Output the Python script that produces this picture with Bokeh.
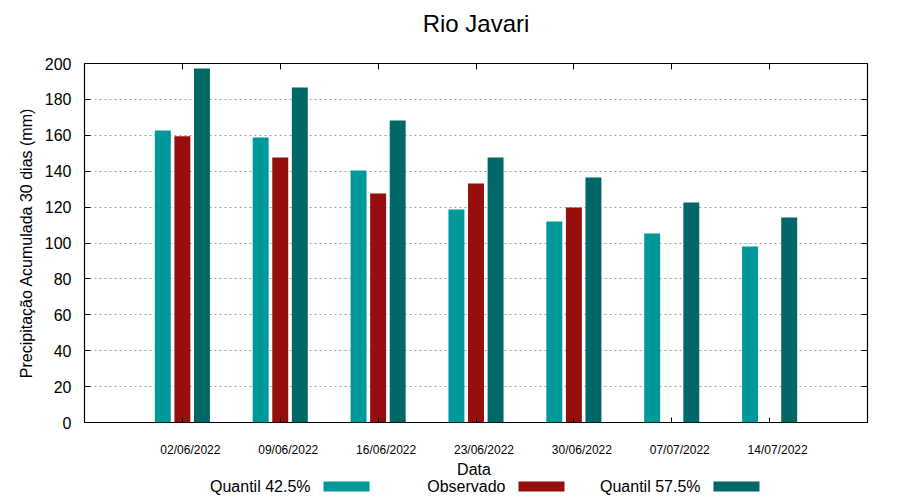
from bokeh.plotting import figure
from bokeh.models import (ColumnDataSource, LinearAxis, FixedTicker, Range1d, Title)
from bokeh.layouts import column
from bokeh.core.properties import value
from bokeh.embed import file_html
from bokeh.resources import INLINE

# ---- data ----
dates = ["02/06/2022", "09/06/2022", "16/06/2022", "23/06/2022",
         "30/06/2022", "07/07/2022", "14/07/2022"]
q425 = [162.7, 158.8, 140.4, 118.7, 112.0, 105.3, 98.0]
observado = [159.5, 147.6, 127.6, 133.1, 119.8, None, None]
q575 = [197.2, 186.6, 168.2, 147.6, 136.5, 122.6, 114.2]
y_ticks = [0, 20, 40, 60, 80, 100, 120, 140, 160, 180, 200]
series_names = ["Quantil 42.5%", "Observado", "Quantil 57.5%"]
series_colors = ["#009999", "#960e0e", "#006868"]
offsets = [-0.2, 0.0, 0.2]
x_title = "Data"
y_title = "Precipitação Acumulada 30 dias (mm)"

idx = list(range(len(dates)))
FONT = "Liberation Sans"
FW, FH = 783, 359
X0, X1 = -1, 7

p = figure(frame_width=FW, frame_height=FH, output_backend="svg",
           toolbar_location=None, x_range=Range1d(X0, X1), y_range=Range1d(0, 200),
           min_border_left=84, min_border_right=24, min_border_top=63,
           min_border_bottom=0)
p.extra_x_ranges = {"labels": Range1d(X0 - 0.082, X1 - 0.082)}

p.title.text = "Rio Javari"
p.title.align = "center"
p.title.offset = 0
p.title.text_font = FONT
p.title.text_font_size = "24px"
p.title.text_font_style = "normal"
p.title.text_color = "black"
p.title.standoff = 15

series = [q425, observado, q575]
for name, vals, col, off in zip(series_names, series, series_colors, offsets):
    xs = [i + off for i, v in zip(idx, vals) if v is not None]
    ys = [v for v in vals if v is not None]
    src = ColumnDataSource(dict(x=xs, top=ys))
    p.vbar(x="x", top="top", bottom=0, width=0.163, source=src,
           fill_color=col, line_color=None)

blank_x = {i: "" for i in idx}
blank_y = {t: "" for t in y_ticks}

# bottom axis: tick marks only
ax = p.xaxis[0]
ax.ticker = FixedTicker(ticks=idx)
ax.major_label_overrides = blank_x
ax.major_label_standoff = 0
ax.major_tick_in = 5
ax.major_tick_out = 0
ax.minor_tick_line_color = None
ax.axis_line_color = None

# bottom axis on a slightly shifted range: date labels as in the reference
lab = LinearAxis(x_range_name="labels", ticker=FixedTicker(ticks=idx),
                 major_label_overrides={i: d for i, d in zip(idx, dates)},
                 major_label_text_font=FONT, major_label_text_font_size="12px",
                 major_label_text_color="black", major_label_standoff=20,
                 major_tick_in=0, major_tick_out=0, minor_tick_line_color=None,
                 axis_line_color=None)
p.add_layout(lab, "below")

ay = p.yaxis[0]
ay.ticker = FixedTicker(ticks=y_ticks)
ay.major_label_text_font = FONT
ay.major_label_text_font_size = "16px"
ay.major_label_text_color = "black"
ay.major_label_standoff = 13
ay.axis_label = y_title
ay.axis_label_text_font = FONT
ay.axis_label_text_font_size = "16px"
ay.axis_label_text_font_style = "normal"
ay.axis_label_text_color = "black"
ay.axis_label_standoff = 7
ay.major_tick_in = 6
ay.major_tick_out = 0
ay.minor_tick_line_color = None
ay.axis_line_color = None

top_ax = LinearAxis(ticker=FixedTicker(ticks=idx), major_label_overrides=blank_x,
                    major_tick_in=6, major_tick_out=0, minor_tick_line_color=None,
                    axis_line_color=None, major_label_standoff=0)
right_ax = LinearAxis(ticker=FixedTicker(ticks=y_ticks), major_label_overrides=blank_y,
                      major_tick_in=6, major_tick_out=0, minor_tick_line_color=None,
                      axis_line_color=None, major_label_standoff=0)
p.add_layout(top_ax, "above")
p.add_layout(right_ax, "right")
# spacing between title and plot frame
p.add_layout(Title(text=" ", text_font_size="12px", standoff=3), "above")

p.xgrid.grid_line_color = None
p.ygrid.ticker = FixedTicker(ticks=y_ticks[1:-1])
p.ygrid.grid_line_color = "#a0a0a0"
p.ygrid.grid_line_dash = "2 3"
p.ygrid.grid_line_width = 1

p.outline_line_color = "black"
p.outline_line_width = 1.2

# ---- strip under the plot: x-axis title and legend (gnuplot style) ----
LH = 42  # strip height in pixels; its y range is in pixels
leg = figure(frame_width=FW, frame_height=LH, output_backend="svg",
             toolbar_location=None, x_range=Range1d(0, FW), y_range=Range1d(0, LH),
             x_axis_location=None, y_axis_location=None,
             min_border_left=84, min_border_right=24, min_border_top=0,
             min_border_bottom=0)
leg.outline_line_color = None
leg.xgrid.visible = False
leg.ygrid.visible = False

# axis title "Data", centred under the frame
leg.text(x=[FW / 2 - 2], y=[LH - 10], text=[x_title], text_font=value(FONT),
         text_font_size="16px", text_color="black", text_align="center",
         text_baseline="middle")

# legend entries: right-aligned text followed by a colour box
text_right_px = [226, 421, 616]
box_left_px = [239, 434, 629]
leg.text(x=text_right_px, y=[LH - 27] * 3, text=series_names, text_font=value(FONT),
         text_font_size="16px", text_color="black", text_align="right",
         text_baseline="middle")
leg.quad(left=box_left_px, right=[b + 46 for b in box_left_px],
         bottom=[LH - 32] * 3, top=[LH - 22] * 3,
         fill_color=series_colors, line_color=None)

layout = column(p, leg, spacing=0)
open("out.html", "w").write(file_html(layout, INLINE))
